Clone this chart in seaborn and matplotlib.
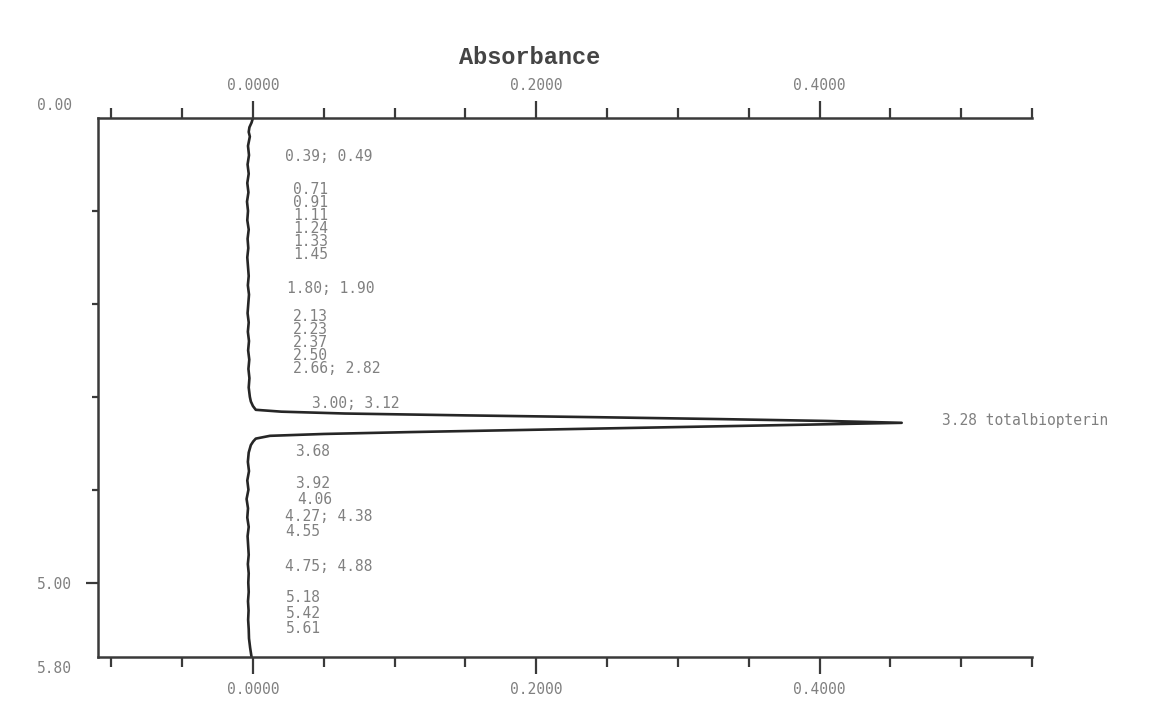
import matplotlib
matplotlib.use("Agg")
import matplotlib.pyplot as plt
from matplotlib.transforms import ScaledTranslation
from matplotlib.ticker import FixedLocator, FuncFormatter
import seaborn as sns
import pandas as pd

# Retention time (min) and absorbance of the detector trace
time_min = [
    0.00, 0.05, 0.10, 0.15, 0.20, 0.30, 0.40, 0.50, 0.60, 0.70,
    0.80, 0.90, 1.00, 1.10, 1.20, 1.30, 1.40, 1.50, 1.60, 1.70,
    1.80, 1.90, 2.00, 2.10, 2.20, 2.30, 2.40, 2.50, 2.60, 2.70,
    2.80, 2.90, 3.00, 3.05, 3.10, 3.14, 3.16, 3.18, 3.20, 3.22,
    3.24, 3.26, 3.28, 3.30, 3.32, 3.34, 3.36, 3.38, 3.40, 3.42,
    3.45, 3.48, 3.52, 3.60, 3.70, 3.80, 3.90, 4.00, 4.10, 4.20,
    4.30, 4.40, 4.50, 4.60, 4.70, 4.80, 4.90, 5.00, 5.10, 5.20,
    5.30, 5.40, 5.50, 5.60, 5.70, 5.80,
]
absorbance = [
    0.0000, -0.0010, -0.0025, -0.0030, -0.0022, -0.0035, -0.0028, -0.0038, -0.0030, -0.0040,
    -0.0032, -0.0042, -0.0035, -0.0040, -0.0030, -0.0038, -0.0033, -0.0040, -0.0035, -0.0030,
    -0.0036, -0.0028, -0.0033, -0.0038, -0.0030, -0.0036, -0.0028, -0.0034, -0.0026, -0.0032,
    -0.0025, -0.0030, -0.0022, -0.0015, 0.0000, 0.0020, 0.0200, 0.0650, 0.1500, 0.2450,
    0.3300, 0.4050, 0.4580, 0.3900, 0.3200, 0.2500, 0.1800, 0.1100, 0.0500, 0.0120,
    0.0020, 0.0002, -0.0015, -0.0030, -0.0036, -0.0028, -0.0040, -0.0032, -0.0045, -0.0035,
    -0.0040, -0.0030, -0.0038, -0.0034, -0.0030, -0.0036, -0.0030, -0.0033, -0.0030, -0.0035,
    -0.0031, -0.0034, -0.0030, -0.0028, -0.0020, -0.0010,
]

# Peak annotations (retention times printed by the integrator)
peak_labels = [
    "0.39; 0.49", "0.71", "0.91", "1.11", "1.24", "1.33", "1.45",
    "1.80; 1.90", "2.13", "2.23", "2.37", "2.50", "2.66; 2.82",
    "3.00; 3.12", "3.28 totalbiopterin", "3.68",
    "3.92", "4.06", "4.27; 4.38", "4.55", "4.75; 4.88",
    "5.18", "5.42", "5.61",
]

# Axis ticks
x_major = [0.0, 0.2, 0.4]
x_minor = [-0.10, -0.05, 0.05, 0.10, 0.15, 0.25, 0.30, 0.35, 0.45, 0.50, 0.55]
y_major = [0.00, 5.00, 5.80]
y_minor = [1.0, 2.0, 3.0, 4.0]

# Where each annotation is printed (absorbance, time)
label_x = [0.0226, 0.0282, 0.0282, 0.0282, 0.0282, 0.0282, 0.0282,
           0.0240, 0.0282, 0.0282, 0.0282, 0.0282, 0.0282,
           0.0416, 0.4868, 0.0296,
           0.0296, 0.0310, 0.0226, 0.0226, 0.0226,
           0.0233, 0.0233, 0.0233]
label_t = [0.419, 0.774, 0.914, 1.054, 1.194, 1.333, 1.473,
           1.839, 2.140, 2.280, 2.419, 2.559, 2.699,
           3.075, 3.258, 3.591,
           3.935, 4.108, 4.290, 4.452, 4.828,
           5.161, 5.333, 5.495]

sns.set_theme(style="white")
plt.rcParams["font.family"] = ["DejaVu Sans Mono", "DejaVu Sans"]

ink = "#3a3a3a"
grey_text = "#808080"
mono = ["DejaVu Sans Mono", "DejaVu Sans"]

fig = plt.figure(figsize=(11.72, 7.10), dpi=100)
fig.patch.set_facecolor("white")
ax = fig.add_axes([98 / 1172, 1 - 657 / 710, (1032 - 98) / 1172, (657 - 118) / 710])
ax.set_facecolor("white")

df = pd.DataFrame({"time": time_min, "absorbance": absorbance})
sns.lineplot(data=df, x="absorbance", y="time", sort=False, estimator=None,
             ax=ax, color="#262626", linewidth=1.9)

ax.set_xlim(-0.1094, 0.55)
ax.set_ylim(5.80, 0.00)
ax.set_xlabel("")
ax.set_ylabel("")

for side in ["left", "top", "bottom"]:
    ax.spines[side].set_visible(True)
    ax.spines[side].set_color(ink)
    ax.spines[side].set_linewidth(1.8)
ax.spines["right"].set_visible(False)

# x axis: ticks on both top and bottom
ax.xaxis.set_major_locator(FixedLocator(x_major))
ax.xaxis.set_minor_locator(FixedLocator(x_minor))
ax.xaxis.set_major_formatter(FuncFormatter(lambda v, p: f"{v:.4f}"))
ax.tick_params(axis="x", which="both", top=True, bottom=True,
               labeltop=True, labelbottom=True, direction="out",
               color=ink, width=1.6)
ax.tick_params(axis="x", which="major", length=12, pad=6,
               labelsize=10.5, labelcolor=grey_text)
ax.tick_params(axis="x", which="minor", length=7.5)

# y axis: time in minutes
ax.yaxis.set_major_locator(FixedLocator(y_major))
ax.yaxis.set_minor_locator(FixedLocator(y_minor))
ax.yaxis.set_major_formatter(FuncFormatter(lambda v, p: f"{v:.2f}"))
ax.tick_params(axis="y", which="both", left=True, right=False, direction="out",
               color=ink, width=1.6)
ax.tick_params(axis="y", which="major", length=9, pad=9.5,
               labelsize=10.5, labelcolor=grey_text)
ax.tick_params(axis="y", which="minor", length=4.5)

for lab in ax.get_xticklabels() + ax.get_yticklabels():
    lab.set_family(mono)

fig.canvas.draw()
yticks = ax.yaxis.get_major_ticks()
yticks[0].tick1line.set_visible(False)
yticks[2].tick1line.set_visible(False)
ylabels = ax.get_yticklabels()
ylabels[0].set_transform(ylabels[0].get_transform()
                         + ScaledTranslation(0, 14 / 100, fig.dpi_scale_trans))
ylabels[2].set_transform(ylabels[2].get_transform()
                         + ScaledTranslation(0, -10 / 100, fig.dpi_scale_trans))

for txt, xv, tv in zip(peak_labels, label_x, label_t):
    ax.text(xv, tv, txt, ha="left", va="center", fontsize=10.5,
            family=mono, color=grey_text)

fig.text(530 / 1172, 1 - 58 / 710, "Absorbance", ha="center", va="center",
         fontsize=17, fontweight="bold", family=["Liberation Mono", "DejaVu Sans Mono"],
         color="#444444")

fig.savefig("out.png", dpi=100, facecolor="white")
